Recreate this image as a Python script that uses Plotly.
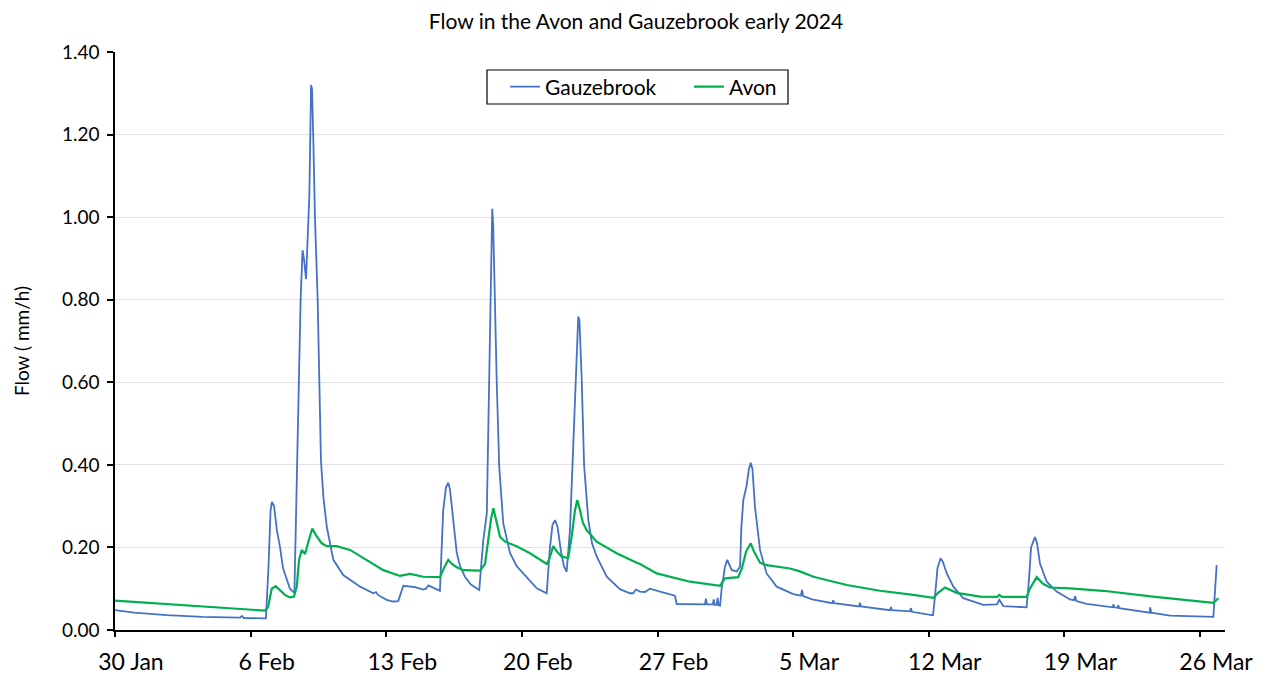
import pandas as pd
import plotly.graph_objects as go

START = "2024-01-30"

gauze_day = [0.00, 1.00, 2.67, 4.50, 6.45, 6.55, 6.65, 7.79, 7.92, 8.03, 8.10, 8.21, 8.36, 8.52, 8.67, 8.86,
             9.03, 9.26, 9.39, 9.51, 9.58, 9.68, 9.75, 9.86, 9.94, 10.03, 10.12, 10.17, 10.23, 10.32, 10.46,
             10.53, 10.63, 10.76, 10.93, 11.27, 11.78, 12.65, 13.33, 13.47, 13.57, 14.02, 14.36, 14.62, 14.88,
             15.48, 15.91, 16.05, 16.17, 16.77, 16.94, 17.08, 17.20, 17.29, 17.46, 17.64, 17.81, 18.06, 18.37,
             18.80, 18.89, 19.01, 19.19, 19.24, 19.32, 19.39, 19.47, 19.52, 19.57, 19.70, 19.83, 20.04, 20.39,
             20.73, 21.07, 21.77, 22.28, 22.45, 22.58, 22.71, 22.84, 23.02, 23.17, 23.31, 23.48, 23.65, 23.79,
             23.91, 23.97, 24.09, 24.21, 24.43, 24.62, 24.86, 25.38, 26.06, 26.58, 26.74, 26.89, 27.10, 27.35,
             27.61, 28.13, 28.82, 28.90, 28.99, 29.68, 30.45, 30.50, 30.55, 30.86, 30.90, 30.95, 31.05, 31.10,
             31.15, 31.23, 31.31, 31.48, 31.60, 31.83, 32.09, 32.26, 32.33, 32.43, 32.60, 32.72, 32.81, 32.90,
             33.03, 33.29, 33.63, 34.15, 35.01, 35.40, 35.46, 35.52, 35.98, 37.02, 37.07, 37.12, 38.40, 38.45,
             38.50, 40.00, 40.05, 40.10, 41.03, 41.08, 41.13, 42.15, 42.22, 42.32, 42.45, 42.61, 42.73, 42.93,
             43.27, 43.78, 44.65, 44.82, 45.52, 45.64, 45.85, 47.05, 47.17, 47.28, 47.48, 47.59, 47.74, 48.09,
             48.60, 49.29, 49.50, 49.55, 49.62, 50.15, 51.50, 51.53, 51.58, 51.75, 51.78, 51.83, 53.40, 53.43,
             53.48, 54.45, 56.69, 56.86]
gauze_flow = [0.048, 0.042, 0.036, 0.032, 0.030, 0.034, 0.029, 0.028, 0.150, 0.290, 0.310, 0.300, 0.240, 0.200,
              0.150, 0.121, 0.100, 0.090, 0.400, 0.600, 0.800, 0.920, 0.900, 0.850, 0.950, 1.050, 1.320, 1.310,
              1.200, 1.000, 0.800, 0.600, 0.410, 0.320, 0.250, 0.170, 0.133, 0.105, 0.089, 0.092, 0.085, 0.073,
              0.069, 0.070, 0.107, 0.104, 0.098, 0.100, 0.108, 0.095, 0.290, 0.345, 0.357, 0.340, 0.266, 0.186,
              0.155, 0.129, 0.110, 0.097, 0.150, 0.218, 0.283, 0.400, 0.605, 0.767, 1.020, 0.980, 0.848, 0.605,
              0.396, 0.258, 0.186, 0.155, 0.137, 0.101, 0.089, 0.200, 0.255, 0.266, 0.250, 0.190, 0.155, 0.141,
              0.240, 0.444, 0.605, 0.759, 0.750, 0.605, 0.400, 0.266, 0.210, 0.178, 0.129, 0.099, 0.089, 0.089,
              0.098, 0.093, 0.092, 0.100, 0.093, 0.085, 0.083, 0.063, 0.063, 0.062, 0.076, 0.062, 0.062, 0.074,
              0.061, 0.061, 0.078, 0.060, 0.059, 0.100, 0.153, 0.170, 0.145, 0.142, 0.153, 0.250, 0.315, 0.350,
              0.390, 0.405, 0.390, 0.299, 0.194, 0.137, 0.105, 0.087, 0.083, 0.097, 0.082, 0.074, 0.065, 0.072,
              0.065, 0.057, 0.066, 0.057, 0.048, 0.056, 0.048, 0.045, 0.053, 0.044, 0.036, 0.036, 0.080, 0.150,
              0.174, 0.165, 0.137, 0.105, 0.077, 0.063, 0.061, 0.062, 0.073, 0.058, 0.055, 0.120, 0.200, 0.225,
              0.210, 0.161, 0.117, 0.093, 0.074, 0.072, 0.082, 0.070, 0.063, 0.055, 0.062, 0.055, 0.054, 0.060,
              0.053, 0.042, 0.055, 0.042, 0.035, 0.032, 0.157]

avon_day = [0.00, 7.74, 7.90, 8.09, 8.29, 8.52, 8.77, 9.03, 9.24, 9.38, 9.50, 9.64, 9.70, 9.81, 9.96, 10.18,
            10.37, 10.67, 10.93, 11.44, 12.13, 12.99, 13.85, 14.71, 15.23, 15.91, 16.77, 16.98, 17.20, 17.39,
            17.64, 17.98, 18.84, 19.10, 19.25, 19.41, 19.53, 19.66, 19.87, 20.13, 20.73, 21.42, 22.28, 22.40,
            22.62, 22.81, 23.05, 23.39, 23.58, 23.74, 23.86, 24.00, 24.15, 24.34, 24.86, 25.89, 26.58, 26.93,
            27.10, 27.96, 29.68, 31.23, 31.33, 31.48, 32.17, 32.36, 32.57, 32.81, 32.98, 33.29, 33.63, 34.84,
            35.35, 36.05, 37.77, 39.48, 41.20, 42.24, 42.48, 42.84, 43.44, 44.65, 45.52, 45.64, 45.78, 47.05,
            47.22, 47.57, 47.90, 48.26, 49.29, 50.99, 53.57, 56.69, 56.95]
avon_flow = [0.071, 0.047, 0.055, 0.100, 0.106, 0.097, 0.085, 0.079, 0.081, 0.105, 0.170, 0.194, 0.190, 0.184,
             0.210, 0.246, 0.230, 0.210, 0.203, 0.203, 0.194, 0.170, 0.145, 0.131, 0.136, 0.129, 0.128, 0.150,
             0.170, 0.160, 0.152, 0.145, 0.144, 0.160, 0.210, 0.270, 0.295, 0.270, 0.226, 0.214, 0.203, 0.186,
             0.160, 0.170, 0.203, 0.190, 0.178, 0.174, 0.230, 0.290, 0.315, 0.290, 0.260, 0.242, 0.214, 0.186,
             0.170, 0.163, 0.160, 0.137, 0.117, 0.107, 0.115, 0.125, 0.128, 0.150, 0.190, 0.210, 0.190, 0.163,
             0.157, 0.149, 0.142, 0.129, 0.109, 0.095, 0.085, 0.078, 0.090, 0.103, 0.090, 0.081, 0.080, 0.085,
             0.080, 0.080, 0.100, 0.128, 0.112, 0.103, 0.101, 0.095, 0.081, 0.066, 0.077]

y_ticks = [0.0, 0.2, 0.4, 0.6, 0.8, 1.0, 1.2, 1.4]

start = pd.Timestamp(START)
gauze_t = start + pd.to_timedelta(gauze_day, unit="D")
avon_t = start + pd.to_timedelta(avon_day, unit="D")

FONT = "Lato, 'Open Sans', sans-serif"
W, H = 1272, 675
ML, MR, MT, MB = 115, 47, 52, 45
PW, PH = W - ML - MR, H - MT - MB


def px_x(px):
    return (px - ML) / PW


def px_y(py):
    return 1 - (py - MT) / PH


fig = go.Figure()
fig.add_trace(go.Scatter(x=gauze_t, y=gauze_flow, mode="lines", name="Gauzebrook",
                         line=dict(color="#4472C4", width=1.8)))
fig.add_trace(go.Scatter(x=avon_t, y=avon_flow, mode="lines", name="Avon",
                         line=dict(color="#00B050", width=2.2)))

# legend frame
fig.add_shape(type="rect", xref="paper", yref="paper",
              x0=px_x(487), x1=px_x(788), y0=px_y(104), y1=px_y(70),
              line=dict(color="#000000", width=1.2), fillcolor="white", layer="below")

fig.update_layout(
    width=W, height=H,
    margin=dict(l=ML, r=MR, t=MT, b=MB, autoexpand=False),
    paper_bgcolor="white", plot_bgcolor="white",
    font=dict(family=FONT, color="#000000"),
    title=dict(text="Flow in the Avon and Gauzebrook early 2024", x=0.5, xanchor="center",
               y=1 - 22 / H, yanchor="middle", yref="container",
               font=dict(size=21, color="#000000")),
    legend=dict(orientation="h", x=px_x(505), xanchor="left", y=px_y(87), yanchor="middle",
                borderwidth=0, bgcolor="rgba(0,0,0,0)",
                font=dict(size=21), itemwidth=30, tracegroupgap=0,
                entrywidth=139, entrywidthmode="pixels"),
    showlegend=True,
)

fig.update_xaxes(
    type="date", automargin=False,
    range=[start, start + pd.Timedelta(days=57.29)],
    tick0=START, dtick=7 * 86400000, tickformat="%-d %b",
    showgrid=False, zeroline=False,
    showline=True, linecolor="#000000", linewidth=1.5,
    ticks="outside", ticklen=5, tickcolor="#000000", tickwidth=1.5,
    tickfont=dict(size=23, family=FONT),
    ticklabelshift=16, ticklabelstandoff=6,
)

fig.update_yaxes(
    automargin=False,
    range=[0, 1.4], tickvals=y_ticks, tickformat=".2f",
    showgrid=True, gridcolor="#E3E3E3", gridwidth=1,
    zeroline=False,
    showline=True, linecolor="#000000", linewidth=1.5,
    ticks="outside", ticklen=6, tickcolor="#000000", tickwidth=1.5,
    tickfont=dict(size=19, family=FONT),
    ticklabelstandoff=4,
    title=dict(text="Flow ( mm/h)", font=dict(size=19), standoff=27),
)

fig.write_html("out.html", post_script="document.body.style.margin='0';",
               config={"displayModeBar": False})
